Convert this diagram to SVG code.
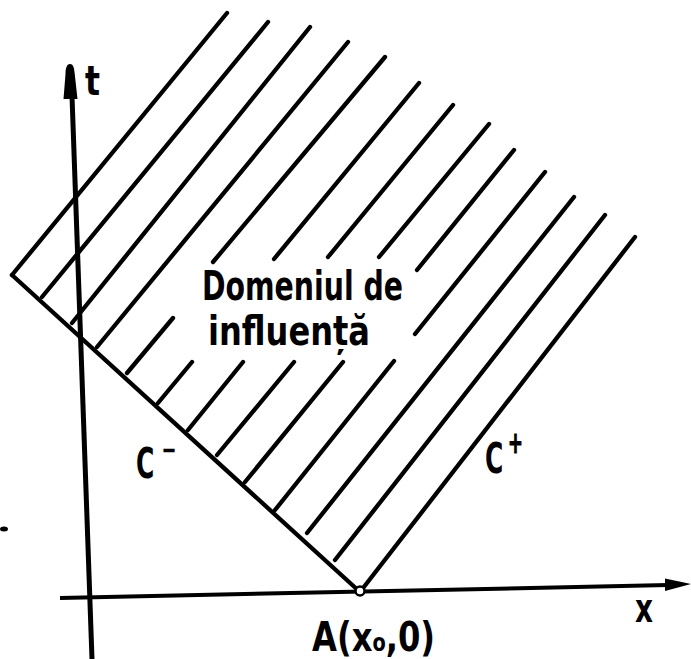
<svg xmlns="http://www.w3.org/2000/svg" width="691" height="659" viewBox="0 0 691 659">
<style>
.ln{fill:none;stroke:#000;stroke-width:4.3;stroke-linecap:round;stroke-linejoin:round}
.ax{fill:none;stroke:#000;stroke-width:4;stroke-linecap:butt}
.tx{font-family:'DejaVu Sans Condensed','DejaVu Sans',sans-serif;font-weight:bold;fill:#000}
</style>
<rect width="691" height="659" fill="#fff"/>
<g id="axes">
  <line class="ax" x1="72" y1="96" x2="92" y2="659" style="stroke-width:5"/>
  <path d="M70,64 C66.5,64 65.5,69 65.5,74 L63.5,99 L77.5,99 L74.5,72 C74,67 73,64 70,64 Z" fill="#000"/>
  <line class="ax" x1="60" y1="598" x2="668" y2="585"/>
  <path d="M691,584 L665,578.5 L665,591 Z" fill="#000"/>
</g>
<g id="hatching">
  <path class="ln" d="M12,275 L227,13"/>
  <path class="ln" d="M42,297 L268,22"/>
  <path class="ln" d="M72,323 L310,27"/>
  <path class="ln" d="M97,347 L348,42"/>
  <path class="ln" d="M127,373 L173,318 M213,262 L385,57"/>
  <path class="ln" d="M158,403 L192,362 M274,259 L419,83"/>
  <path class="ln" d="M188,430 L243,362 M328,257 L453,105"/>
  <path class="ln" d="M217,455 L294,362 M379,257 L489,124"/>
  <path class="ln" d="M245,482 L343,362 M417,270 L514,150"/>
  <path class="ln" d="M275,510 L394,361 M415,334 L545,172"/>
  <path class="ln" d="M307,533 L574,197"/>
  <path class="ln" d="M335,560 L605,215"/>
</g>
<g id="characteristics">
  <path id="C-minus" class="ln" d="M12,275 L360,592"/>
  <path id="C-plus" class="ln" d="M360,592 L635,237"/>
</g>
<g id="pointA">
  <circle cx="360" cy="591" r="4.5" fill="#fff" stroke="#000" stroke-width="2.5"/>
</g>
<ellipse cx="4" cy="529" rx="4" ry="2.5" fill="#000"/>
<g id="labels">
  <text class="tx" x="85" y="95" font-size="40" textLength="15" lengthAdjust="spacingAndGlyphs">t</text>
  <text class="tx" x="202" y="300" font-size="40" textLength="201" lengthAdjust="spacingAndGlyphs">Domeniul de</text>
  <text class="tx" x="208" y="345" font-size="40" textLength="162" lengthAdjust="spacingAndGlyphs">influență</text>
  <text class="tx" transform="translate(136,478) scale(0.66,1)" font-size="42">C<tspan dx="11" dy="-18" font-size="30">−</tspan></text>
  <text class="tx" transform="translate(485,473) scale(0.66,1)" font-size="42">C<tspan dx="7" dy="-20" font-size="30" stroke="#000" stroke-width="1">+</tspan></text>
  <text class="tx" x="635" y="622" font-size="40" textLength="18" lengthAdjust="spacingAndGlyphs">x</text>
  <text class="tx" x="312" y="651" font-size="40" textLength="123" lengthAdjust="spacingAndGlyphs">A(x<tspan font-size="24">o</tspan>,0)</text>
</g>
</svg>
